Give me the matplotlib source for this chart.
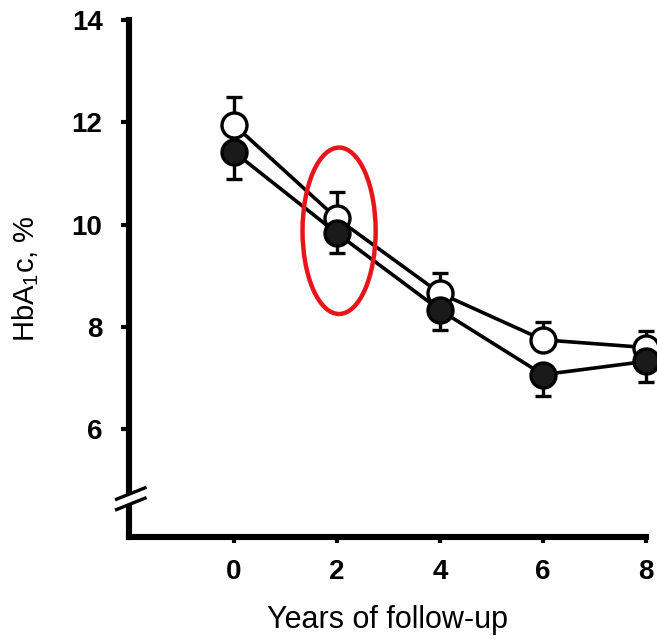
import matplotlib.pyplot as plt
from matplotlib.patches import Ellipse
import numpy as np

plt.rcParams['font.family'] = ['Liberation Sans', 'DejaVu Sans']
plt.rcParams['mathtext.fontset'] = 'custom'
plt.rcParams['mathtext.rm'] = 'Liberation Sans'
plt.rcParams['mathtext.it'] = 'Liberation Sans'

years = [0, 2, 4, 6, 8]
open_mean = [11.95, 10.12, 8.66, 7.75, 7.60]
open_err_up = [0.55, 0.52, 0.40, 0.35, 0.32]
filled_mean = [11.42, 9.83, 8.33, 7.07, 7.33]
filled_err_down = [0.52, 0.38, 0.38, 0.42, 0.40]

fig = plt.figure(figsize=(6.57, 6.40), dpi=100)
ax = fig.add_axes([0.1963, 0.161, 0.787, 0.808])

zeros = [0] * len(years)
ax.errorbar(years, open_mean, yerr=[zeros, open_err_up], color='black',
            lw=2.6, marker='o', ms=18, mfc='white', mec='black', mew=2.4,
            capsize=6, capthick=2.6, elinewidth=2.4, clip_on=False, zorder=3)
ax.errorbar(years, filled_mean, yerr=[filled_err_down, zeros], color='black',
            lw=2.6, marker='o', ms=18, mfc='#1a1a1a', mec='black', mew=2.4,
            capsize=6, capthick=2.6, elinewidth=2.4, clip_on=False, zorder=4)

ax.set_xlim(-2.04, 8.0)
ax.set_ylim(3.9, 14)
ax.set_xticks(years)
ax.set_yticks([6, 8, 10, 12, 14])

for side in ['top', 'right']:
    ax.spines[side].set_visible(False)
for side in ['left', 'bottom']:
    ax.spines[side].set_linewidth(4.4)
    ax.spines[side].set_capstyle('projecting')

ax.tick_params(axis='y', direction='out', length=6, width=3, pad=13,
               labelsize=20)
ax.tick_params(axis='x', direction='out', length=4, width=3, pad=12,
               labelsize=20)
for lab in ax.get_xticklabels() + ax.get_yticklabels():
    lab.set_fontweight('bold')

ax.set_xlabel('Years of follow-up', fontsize=22, labelpad=14)
ax.set_ylabel(r'HbA$_{\mathregular{1}}$c, %', fontsize=21, labelpad=22)

# axis break marks
tr = ax.transAxes
bx = np.array([-0.024, 0.031])
ax.fill([-0.024, 0.031, 0.031, -0.024], [0.073, 0.095, 0.075, 0.053],
        color='white', transform=tr, clip_on=False, zorder=5)
ax.plot(bx, [0.073, 0.095], color='black', lw=2.4, transform=tr,
        clip_on=False, zorder=6)
ax.plot(bx, [0.053, 0.075], color='black', lw=2.4, transform=tr,
        clip_on=False, zorder=6)

# red highlight
ax.add_patch(Ellipse((2.04, 9.88), 1.42, 3.25, fill=False,
                     edgecolor='#e8141c', lw=3.2, zorder=7, clip_on=False))

fig.savefig('out.png', dpi=100)
